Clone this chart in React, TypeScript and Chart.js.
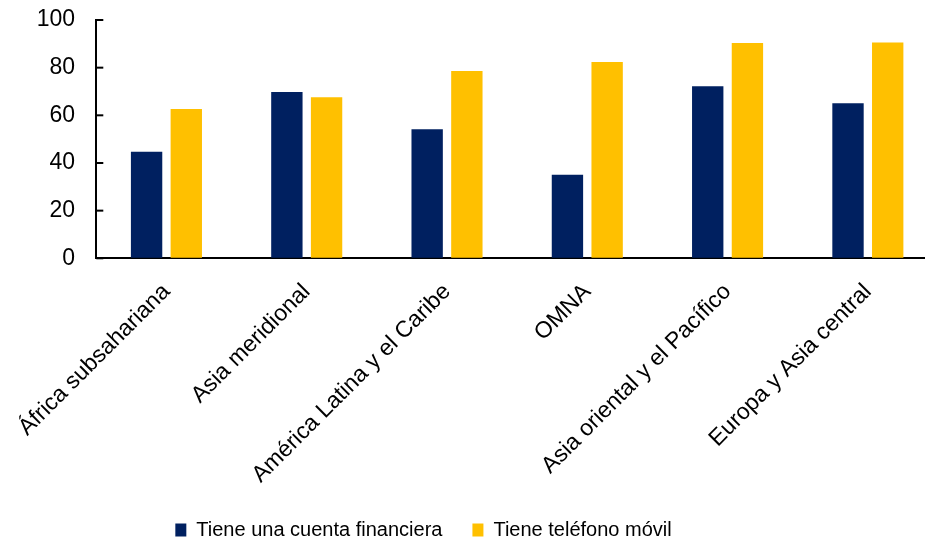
import React, { useEffect, useRef } from "react";
import { Chart, registerables } from "chart.js";

Chart.register(...registerables);

const categories = [
  "África subsahariana",
  "Asia meridional",
  "América Latina y el Caribe",
  "OMNA",
  "Asia oriental y el Pacífico",
  "Europa y Asia central",
];
const seriesNames = ["Tiene una cuenta financiera", "Tiene teléfono móvil"];
const cuentaFinanciera = [44.7, 69.8, 54.2, 35.1, 72.2, 65.1];
const telefonoMovil = [62.6, 67.6, 78.6, 82.4, 90.3, 90.6];
const yTickValues = [0, 20, 40, 60, 80, 100];
const yMin = 0;
const yMax = 100;
const yStep = 20;

const CANVAS_LEFT = -91;
const CANVAS_W = 1029;
const CANVAS_H = 550;
const LEGEND_PAD = 30;
const LEGEND_FONT = 20;
const PLOT_BOTTOM = 258.3;
const PLOT_LEFT = 96.3;

const inwardTicks = {
  id: "inwardTicks",
  afterDatasetsDraw(chart: any) {
    const { ctx, chartArea, scales } = chart;
    const y = scales.y;
    ctx.save();
    ctx.strokeStyle = "#000";
    ctx.lineWidth = 2;
    yTickValues.forEach((v) => {
      const py = y.getPixelForValue(v);
      ctx.beginPath();
      ctx.moveTo(chartArea.left, py);
      ctx.lineTo(chartArea.left + 7, py);
      ctx.stroke();
    });
    ctx.restore();
  },
};

export default function App() {
  const ref = useRef<HTMLCanvasElement | null>(null);

  useEffect(() => {
    if (!ref.current) return;
    const font = "'Liberation Sans', Arial, sans-serif";
    const chart = new Chart(ref.current, {
      type: "bar",
      data: {
        labels: categories,
        datasets: [
          {
            label: seriesNames[0],
            data: cuentaFinanciera,
            backgroundColor: "#002060",
            borderWidth: 0,
            categoryPercentage: 0.566,
            barPercentage: 0.79,
          },
          {
            label: seriesNames[1],
            data: telefonoMovil,
            backgroundColor: "#FFC000",
            borderWidth: 0,
            categoryPercentage: 0.566,
            barPercentage: 0.79,
          },
        ],
      },
      options: {
        animation: false,
        responsive: false,
        devicePixelRatio: 1,
        layout: { padding: { top: 20, left: 0, right: 0, bottom: 0 } },
        plugins: {
          legend: {
            position: "bottom",
            labels: {
              font: { family: font, size: LEGEND_FONT },
              color: "#000",
              boxWidth: 11,
              boxHeight: 13,
              padding: LEGEND_PAD,
            },
          },
          tooltip: { enabled: false },
        },
        scales: {
          x: {
            grid: { display: false, drawTicks: false },
            border: { display: true, color: "#000", width: 2 },
            ticks: {
              autoSkip: false,
              minRotation: 45,
              maxRotation: 45,
              padding: 20,
              color: "#000",
              font: { family: font, size: 23 },
            },
            afterFit: (s: any) => {
              s.height = CANVAS_H - (LEGEND_FONT + LEGEND_PAD + 10) - PLOT_BOTTOM;
            },
          },
          y: {
            min: yMin,
            max: yMax,
            grid: {
              display: true,
              drawOnChartArea: false,
              drawTicks: true,
              tickLength: 21.3,
              tickColor: "rgba(0,0,0,0)",
            },
            border: { display: true, color: "#000", width: 2 },
            ticks: {
              stepSize: yStep,
              padding: 0,
              color: "#000",
              font: { family: font, size: 23 },
            },
            afterFit: (s: any) => {
              s.width = PLOT_LEFT - CANVAS_LEFT;
            },
          },
        },
      },
      plugins: [inwardTicks],
    });
    return () => chart.destroy();
  }, []);

  return (
    <div
      style={{
        position: "fixed",
        left: 0,
        top: 0,
        width: 925,
        height: 539,
        overflow: "hidden",
        background: "#fff",
      }}
    >
      <div style={{ position: "absolute", left: CANVAS_LEFT, top: 0, width: CANVAS_W, height: CANVAS_H }}>
        <canvas ref={ref} width={CANVAS_W} height={CANVAS_H} style={{ width: CANVAS_W, height: CANVAS_H }} />
      </div>
    </div>
  );
}
